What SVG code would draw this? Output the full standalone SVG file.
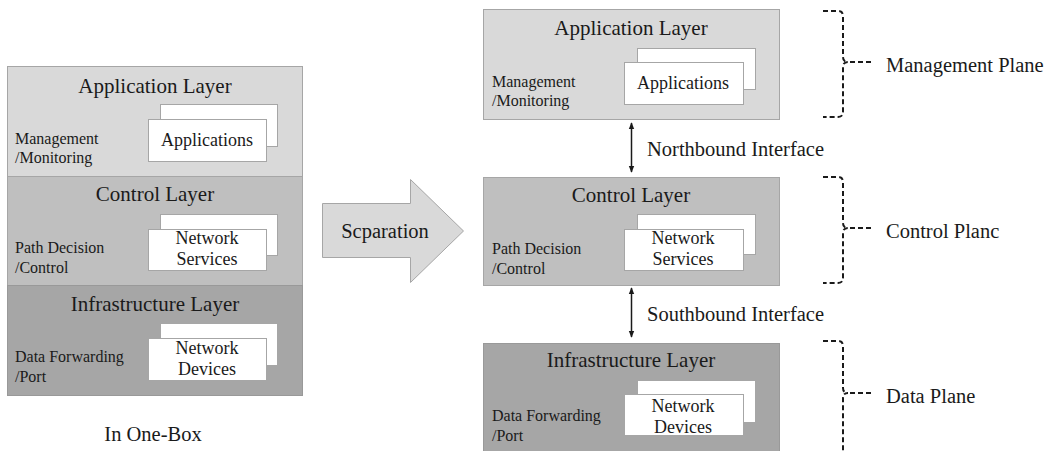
<svg xmlns="http://www.w3.org/2000/svg" width="1053" height="451" viewBox="0 0 1053 451" font-family="Liberation Serif, serif">
  <defs>
    <style>
      text { font-family: "Liberation Serif", "Times New Roman", serif; fill: #1a1a1a; }
      .title { font-size: 21px; text-anchor: middle; }
      .side { font-size: 16px; }
      .card-text { font-size: 18px; text-anchor: middle; }
      .label { font-size: 20.5px; }
      .app { fill: #d9d9d9; stroke: #a6a6a6; stroke-width: 1; }
      .ctl { fill: #bfbfbf; stroke: #a6a6a6; stroke-width: 1; }
      .inf { fill: #a6a6a6; stroke: #999999; stroke-width: 1; }
      .card { fill: #ffffff; stroke: #a6a6a6; stroke-width: 1; }
      .brace { fill: none; stroke: #1a1a1a; stroke-width: 2; stroke-dasharray: 5 3; }
      .iface { stroke: #1a1a1a; stroke-width: 1.5; fill: none; }
    </style>
    <marker id="tip" viewBox="0 0 10 10" refX="9" refY="5" markerWidth="7" markerHeight="7" orient="auto-start-reverse" markerUnits="userSpaceOnUse">
      <path d="M0,1 L10,5 L0,9 z" fill="#1a1a1a"/>
    </marker>
  </defs>

  <!-- Single-box stack -->
  <g id="onebox-application">
    <rect class="app" x="7.5" y="66.5" width="295" height="110"/>
    <text class="title" x="155" y="93">Application Layer</text>
    <rect class="card" x="160.5" y="104.5" width="117" height="42"/>
    <rect class="card" x="148.5" y="119.5" width="118" height="42"/>
    <text class="card-text" x="207" y="146">Applications</text>
    <text class="side" x="15" y="144">Management</text>
    <text class="side" x="15" y="163">/Monitoring</text>
  </g>
  <g id="onebox-control">
    <rect class="ctl" x="7.5" y="176.5" width="295" height="109"/>
    <text class="title" x="155" y="201">Control Layer</text>
    <rect class="card" x="160.5" y="214.5" width="117" height="41"/>
    <rect class="card" x="148.5" y="229.5" width="118" height="41"/>
    <text class="card-text" x="207" y="244">Network</text>
    <text class="card-text" x="207" y="265">Services</text>
    <text class="side" x="15" y="253">Path Decision</text>
    <text class="side" x="15" y="273">/Control</text>
  </g>
  <g id="onebox-infrastructure">
    <rect class="inf" x="7.5" y="285.5" width="295" height="110"/>
    <text class="title" x="155" y="311">Infrastructure Layer</text>
    <rect class="card" x="160.5" y="323.5" width="117" height="42"/>
    <rect class="card" x="148.5" y="338.5" width="118" height="42"/>
    <text class="card-text" x="207" y="354">Network</text>
    <text class="card-text" x="207" y="375">Devices</text>
    <text class="side" x="15" y="362">Data Forwarding</text>
    <text class="side" x="15" y="382">/Port</text>
  </g>
  <text class="label" x="153" y="441" text-anchor="middle">In One-Box</text>

  <!-- Separation arrow -->
  <g id="separation">
    <path d="M322.5,203.5 L410.5,203.5 L410.5,179.5 L463.5,231 L410.5,282.5 L410.5,257.5 L322.5,257.5 Z" fill="#d9d9d9" stroke="#a6a6a6" stroke-width="1"/>
    <text class="label" x="385" y="238" text-anchor="middle">Scparation</text>
  </g>

  <!-- Separated planes -->
  <g id="split-application">
    <rect class="app" x="483.5" y="9.5" width="296" height="110"/>
    <text class="title" x="631" y="35">Application Layer</text>
    <rect class="card" x="637.5" y="48.5" width="118" height="41"/>
    <rect class="card" x="624.5" y="62.5" width="119" height="42"/>
    <text class="card-text" x="683" y="89">Applications</text>
    <text class="side" x="492" y="87">Management</text>
    <text class="side" x="492" y="106">/Monitoring</text>
  </g>
  <g id="split-control">
    <rect class="ctl" x="483.5" y="177.5" width="296" height="108"/>
    <text class="title" x="631" y="202">Control Layer</text>
    <rect class="card" x="637.5" y="214.5" width="118" height="40"/>
    <rect class="card" x="624.5" y="229.5" width="119" height="41"/>
    <text class="card-text" x="683" y="244">Network</text>
    <text class="card-text" x="683" y="265">Services</text>
    <text class="side" x="492" y="254">Path Decision</text>
    <text class="side" x="492" y="274">/Control</text>
  </g>
  <g id="split-infrastructure">
    <rect class="inf" x="483.5" y="343.5" width="296" height="110"/>
    <text class="title" x="631" y="367">Infrastructure Layer</text>
    <rect class="card" x="637.5" y="380.5" width="118" height="42"/>
    <rect class="card" x="624.5" y="394.5" width="119" height="41"/>
    <text class="card-text" x="683" y="412">Network</text>
    <text class="card-text" x="683" y="433">Devices</text>
    <text class="side" x="492" y="421">Data Forwarding</text>
    <text class="side" x="492" y="441">/Port</text>
  </g>

  <!-- Interfaces and plane braces -->
  <g id="connectors">
    <line class="iface" x1="631.5" y1="123" x2="631.5" y2="172" marker-start="url(#tip)" marker-end="url(#tip)"/>
    <line class="iface" x1="631.5" y1="288" x2="631.5" y2="337" marker-start="url(#tip)" marker-end="url(#tip)"/>
    <path class="brace" d="M823,11 L838,11 Q843,11 843,16 L843,57 Q843,62 848,62 Q843,62 843,67 L843,112 Q843,117 838,117 L823,117"/>
    <line class="brace" x1="850" y1="62" x2="873" y2="62"/>
    <path class="brace" d="M823,177 L838,177 Q843,177 843,182 L843,223 Q843,228 848,228 Q843,228 843,233 L843,278 Q843,283 838,283 L823,283"/>
    <line class="brace" x1="850" y1="228" x2="873" y2="228"/>
    <path class="brace" d="M823,341 L838,341 Q843,341 843,346 L843,388 Q843,393 848,393 Q843,393 843,398 L843,451"/>
    <line class="brace" x1="850" y1="393" x2="873" y2="393"/>
  </g>

  <g id="labels">
    <text class="label" x="647" y="156">Northbound Interface</text>
    <text class="label" x="647" y="321">Southbound Interface</text>
    <text class="label" x="886" y="72">Management Plane</text>
    <text class="label" x="886" y="238">Control Planc</text>
    <text class="label" x="886" y="403">Data Plane</text>
  </g>
</svg>
